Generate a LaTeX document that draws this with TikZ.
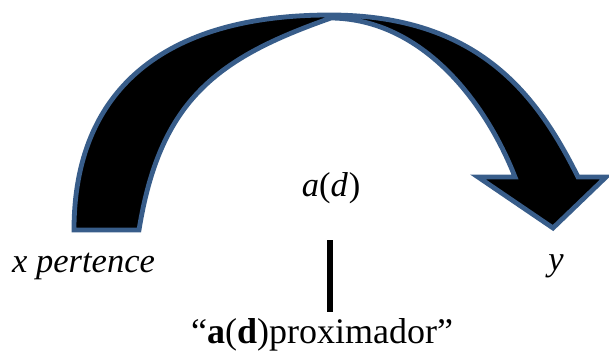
\documentclass[tikz,border=0pt]{standalone}
\usepackage{fontspec}
\setmainfont{Liberation Serif}
\newfontfamily\timesfont{Liberation Serif}
\definecolor{arrowline}{HTML}{385D8A}
\begin{document}
\begin{tikzpicture}[x=1pt,y=1pt,
  bigarrow/.style={fill=black,draw=arrowline,line width=4.8pt,line join=miter},
  lbl/.style={inner sep=0pt,font=\timesfont\fontsize{34.5}{40}\selectfont},
  bottomlbl/.style={inner sep=0pt,font=\timesfont\fontsize{36}{42}\selectfont}]
\useasboundingbox (0,0) rectangle (609,356);
% curved arrow
\coordinate (tailout) at (74,126);
\coordinate (top) at (330,341);
\coordinate (shaftout) at (578,179);
\coordinate (headR) at (606,179);
\coordinate (tip) at (553,128);
\coordinate (headL) at (478,179);
\coordinate (innerbase) at (515,179);
\coordinate (cusp) at (331,338);
\coordinate (tailin) at (139,126);
\draw[bigarrow] (tailout) .. controls (74,266) and (164,341) .. (top)
  .. controls (480,341) and (538,259) .. (shaftout)
  -- (headR) -- (tip) -- (headL) -- (innerbase)
  .. controls (486,253) and (423,337) .. (cusp)
  .. controls (217,298) and (160,256) .. (tailin) -- cycle;
% labels
\node[lbl,anchor=base west] (x) at (12,84) {\textit{x pertence}};
\node[lbl,anchor=base] (y) at (556,86) {\textit{y}};
\node[lbl,anchor=base] (ad) at (331,159) {\textit{a}(\textit{d\kern1pt})};
\node[bottomlbl,anchor=base] (prox) at (322,13) {“\textbf{a}(\textbf{d})proximador”};
\coordinate (lt) at (330,116);
\coordinate (lb) at (330,44);
\draw[line width=5.5pt] (lt) -- (lb);
\end{tikzpicture}
\end{document}
